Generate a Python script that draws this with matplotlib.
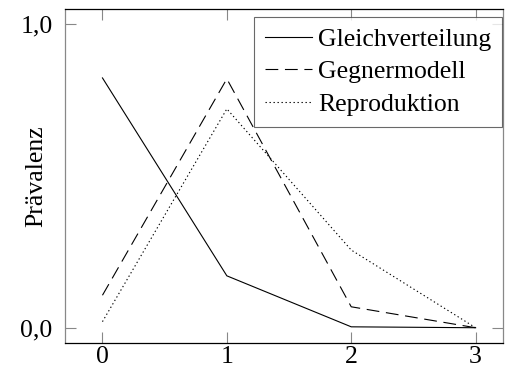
import numpy as np
import matplotlib
matplotlib.use('Agg')
import matplotlib.pyplot as plt

plt.rcParams['font.family'] = 'Liberation Serif'
plt.rcParams['font.size'] = 18.5

runden = [0, 1, 2, 3]
gleich = [0.823, 0.171, 0.003, 0.0]
gegner = [0.107, 0.820, 0.069, 0.0]
repro = [0.020, 0.721, 0.256, 0.0]

fig = plt.figure(figsize=(5.05, 3.76), dpi=100)
ax = fig.add_axes([0.129, 0.088, 0.867, 0.888])

ax.plot(runden, gleich, color='black', lw=0.8, label='Gleichverteilung')
ax.plot(runden, gegner, color='black', lw=0.8, dashes=(11.5, 6), label='Gegnermodell')
ax.plot(runden, repro, color='black', lw=0.8, dashes=(1.2, 2.4), label='Reproduktion')

ax.set_xlim(-0.3, 3.22)
ax.set_ylim(-0.05, 1.05)
ax.set_xticks(runden)
ax.set_yticks([0, 1])
ax.set_yticklabels(['0,0', '1,0'])
ax.set_ylabel('Prävalenz')
ax.yaxis.set_label_coords(-0.041, 0.5)

ax.tick_params(direction='in', length=8, width=0.8, color='#888888',
               top=True, right=True)
ax.tick_params(axis='x', pad=2)
ax.tick_params(axis='y', pad=9)
for s in ['left', 'right']:
    ax.spines[s].set_color('#888888')
for s in ['top', 'bottom']:
    ax.spines[s].set_color('black')
for s in ax.spines.values():
    s.set_linewidth(0.9)

leg = ax.legend(loc='upper right', bbox_to_anchor=(0.994, 0.955),
                bbox_transform=fig.transFigure, borderaxespad=0,
                fancybox=False, handlelength=1.8, handletextpad=0.25,
                borderpad=0.42, labelspacing=0.38)
leg.get_frame().set_edgecolor('#444444')
leg.get_frame().set_linewidth(0.8)

fig.savefig('out.png', dpi=100)
